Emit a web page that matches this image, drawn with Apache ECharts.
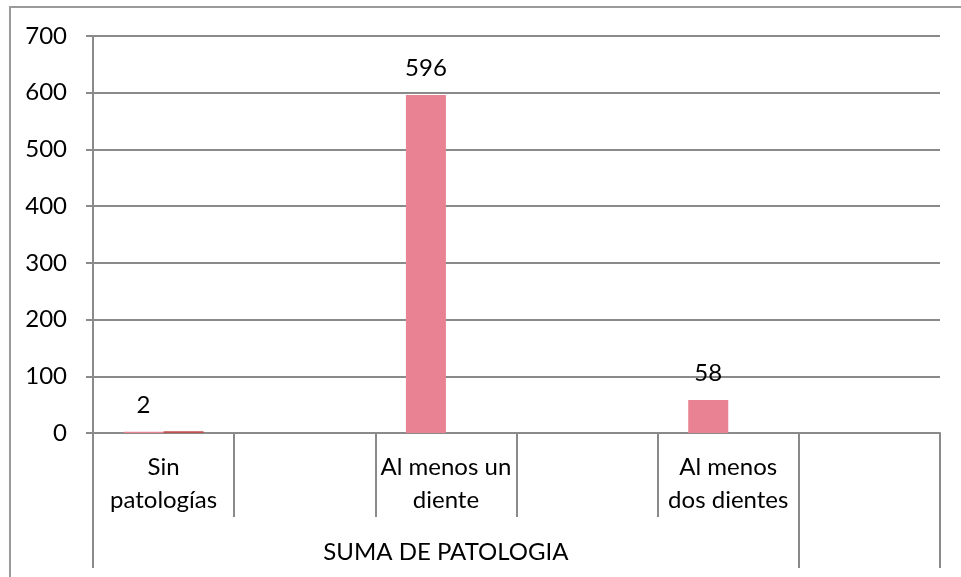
<!DOCTYPE html>
<html>
<head>
<meta charset="utf-8">
<style>
html,body{margin:0;padding:0;background:#fff;}
#chart{width:961px;height:577px;}
</style>
<script src="https://cdn.jsdelivr.net/npm/echarts@6/dist/echarts.min.js"></script>
</head>
<body>
<div id="chart"></div>
<script>
const categories = ['Sin\npatologías', ' ', 'Al menos un\ndiente', '  ', 'Al menos\ndos dientes', '   '];
const outerLabel = 'SUMA DE PATOLOGIA';
const seriesA = [2, null, 596, null, 58, null];
const seriesB = [3, null, null, null, null, null];
const yTicks = {min: 0, max: 700, interval: 100};

const FONT = 'Lato';
const GRAY = '#8a8a8a';
const chart = echarts.init(document.getElementById('chart'), null, {renderer: 'canvas'});
chart.setOption({
  animation: false,
  textStyle: {fontFamily: FONT},
  graphic: [{
    type: 'rect', z: -10, silent: true,
    shape: {x: 10, y: 7, width: 2000, height: 2000},
    style: {fill: 'none', stroke: '#9a9a9a', lineWidth: 2}
  }],
  grid: {left: 93, right: 21, top: 36, bottom: 144, containLabel: false},
  xAxis: [{
    type: 'category',
    data: categories,
    position: 'bottom',
    boundaryGap: true,
    axisLine: {show: true, lineStyle: {color: GRAY, width: 2}},
    axisTick: {show: true, interval: 0, length: 84, lineStyle: {color: GRAY, width: 2}},
    axisLabel: {interval: 0, margin: 18, color: '#000', fontSize: 24, lineHeight: 33, fontFamily: FONT, align: 'center'},
    splitLine: {show: false}
  }, {
    type: 'value',
    min: 0, max: 6,
    position: 'bottom',
    axisLine: {show: false},
    axisTick: {show: true, customValues: [0, 5, 6], length: 135, lineStyle: {color: GRAY, width: 2}},
    axisLabel: {show: true, customValues: [2.5], margin: 107, color: '#000', fontSize: 24, fontFamily: FONT,
      formatter: function () { return outerLabel; }},
    splitLine: {show: false}
  }],
  yAxis: {
    type: 'value',
    min: yTicks.min, max: yTicks.max, interval: yTicks.interval,
    axisLine: {show: true, lineStyle: {color: GRAY, width: 2}},
    axisTick: {show: true, length: 7, lineStyle: {color: GRAY, width: 2}},
    axisLabel: {margin: 26, color: '#000', fontSize: 24, fontFamily: FONT},
    splitLine: {show: true, lineStyle: {color: GRAY, width: 2}}
  },
  series: [{
    type: 'bar',
    xAxisIndex: 0,
    data: seriesA,
    barWidth: 40,
    barGap: '0%',
    itemStyle: {color: '#e98292'},
    label: {show: true, position: 'top', distance: 15, color: '#000', fontSize: 24, fontFamily: FONT}
  }, {
    type: 'bar',
    xAxisIndex: 0,
    data: seriesB,
    barWidth: 40,
    barGap: '0%',
    itemStyle: {color: '#c0504d'},
    label: {show: false}
  }]
});
</script>
</body>
</html>
